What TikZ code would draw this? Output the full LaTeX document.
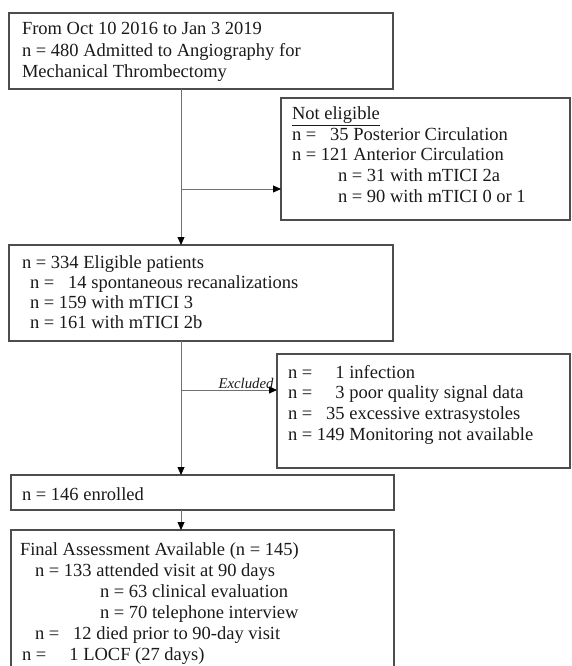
\documentclass[tikz,border=0pt]{standalone}
\usepackage{fontspec}
\setmainfont{Liberation Serif}
\usetikzlibrary{arrows.meta}
\definecolor{boxgray}{HTML}{4D4D4D}
\definecolor{linegray}{HTML}{707070}
\definecolor{textcol}{HTML}{1A1A1A}
\begin{document}
\begin{tikzpicture}[x=1pt,y=-1pt,
  box/.style={draw=boxgray, line width=1.3pt, inner sep=0pt, outer sep=0pt, anchor=north west},
  txt/.style={anchor=base west, inner sep=0pt, outer sep=0pt, text=textcol},
  conn/.style={draw=linegray, line width=0.8pt},
  arr/.style={conn, -{Triangle[length=8pt,width=7pt,color=black]}}]
\useasboundingbox (0,0) rectangle (571,666);
\clip (0,0) rectangle (571,666);
% boxes
\node[box, minimum width=384pt, minimum height=76pt] (b1) at (9,13) {};
\node[box, minimum width=289pt, minimum height=122pt] (b2) at (281,98) {};
\node[box, minimum width=384pt, minimum height=96pt] (b3) at (9,245) {};
\node[box, minimum width=293pt, minimum height=114pt] (b4) at (277,354) {};
\node[box, minimum width=383pt, minimum height=35pt] (b5) at (11,475) {};
\node[box, minimum width=383pt, minimum height=160pt] (b6) at (11,530) {};
% texts
\node[txt, font=\fontsize{18.5}{21.5}\selectfont] (t1) at (22,35) {\begin{tabular}[t]{@{}l@{}}From Oct 10 2016 to Jan 3 2019\\ n = 480 Admitted to Angiography for\\ Mechanical Thrombectomy\end{tabular}};
\node[txt, font=\fontsize{18.5}{20.5}\selectfont] (t2) at (292,120) {\begin{tabular}[t]{@{}l@{}}\underline{Not eligible}\\ n = \hphantom{1}35 Posterior Circulation\\ n = 121 Anterior Circulation\\ \hspace*{46pt}n = 31 with mTICI 2a\\ \hspace*{46pt}n = 90 with mTICI 0 or 1\end{tabular}};
\node[txt, font=\fontsize{18.5}{20}\selectfont] (t3) at (22,268) {\begin{tabular}[t]{@{}l@{}}n = 334 Eligible patients\\ \hspace*{8pt}n = \hphantom{1}14 spontaneous recanalizations\\ \hspace*{8pt}n = 159 with mTICI 3\\ \hspace*{8pt}n = 161 with mTICI 2b\end{tabular}};
\node[txt, font=\fontsize{18.5}{20.7}\selectfont] (t4) at (288,378) {\begin{tabular}[t]{@{}l@{}}n = \hphantom{14}1 infection\\ n = \hphantom{14}3 poor quality signal data\\ n = \hphantom{1}35 excessive extrasystoles\\ n = 149 Monitoring not available\end{tabular}};
\node[txt, font=\fontsize{18.5}{21}\selectfont] (t5) at (22,500) {n = 146 enrolled};
\node[txt, font=\fontsize{18.5}{21}\selectfont] (t6) at (20,555) {\begin{tabular}[t]{@{}l@{}}Final Assessment Available (n = 145)\\ \hspace*{15pt}n = 133 attended visit at 90 days\\ \hspace*{80pt}n = 63 clinical evaluation\\ \hspace*{80pt}n = 70 telephone interview\\ \hspace*{15pt}n = \hphantom{1}12 died prior to 90-day visit\\ \hspace*{2pt}n = \hphantom{12}1 LOCF (27 days)\end{tabular}};
% connectors
\coordinate (j1) at (181,189);
\coordinate (j2) at (181,390);
\draw[arr] (b1.south -| j1) -- (b3.north -| j1);
\draw[arr] (j1) -- (j1 -| b2.west);
\draw[arr] (b3.south -| j2) -- (b5.north -| j2);
\draw[arr] (j2) -- node[at end, anchor=base east, xshift=-3pt, yshift=2pt, inner sep=0pt, text=textcol, font=\itshape\fontsize{14.8}{16}\selectfont] (exl) {Excluded} (j2 -| b4.west);
\draw[arr] (b5.south -| j2) -- (b6.north -| j2);
\end{tikzpicture}
\end{document}
